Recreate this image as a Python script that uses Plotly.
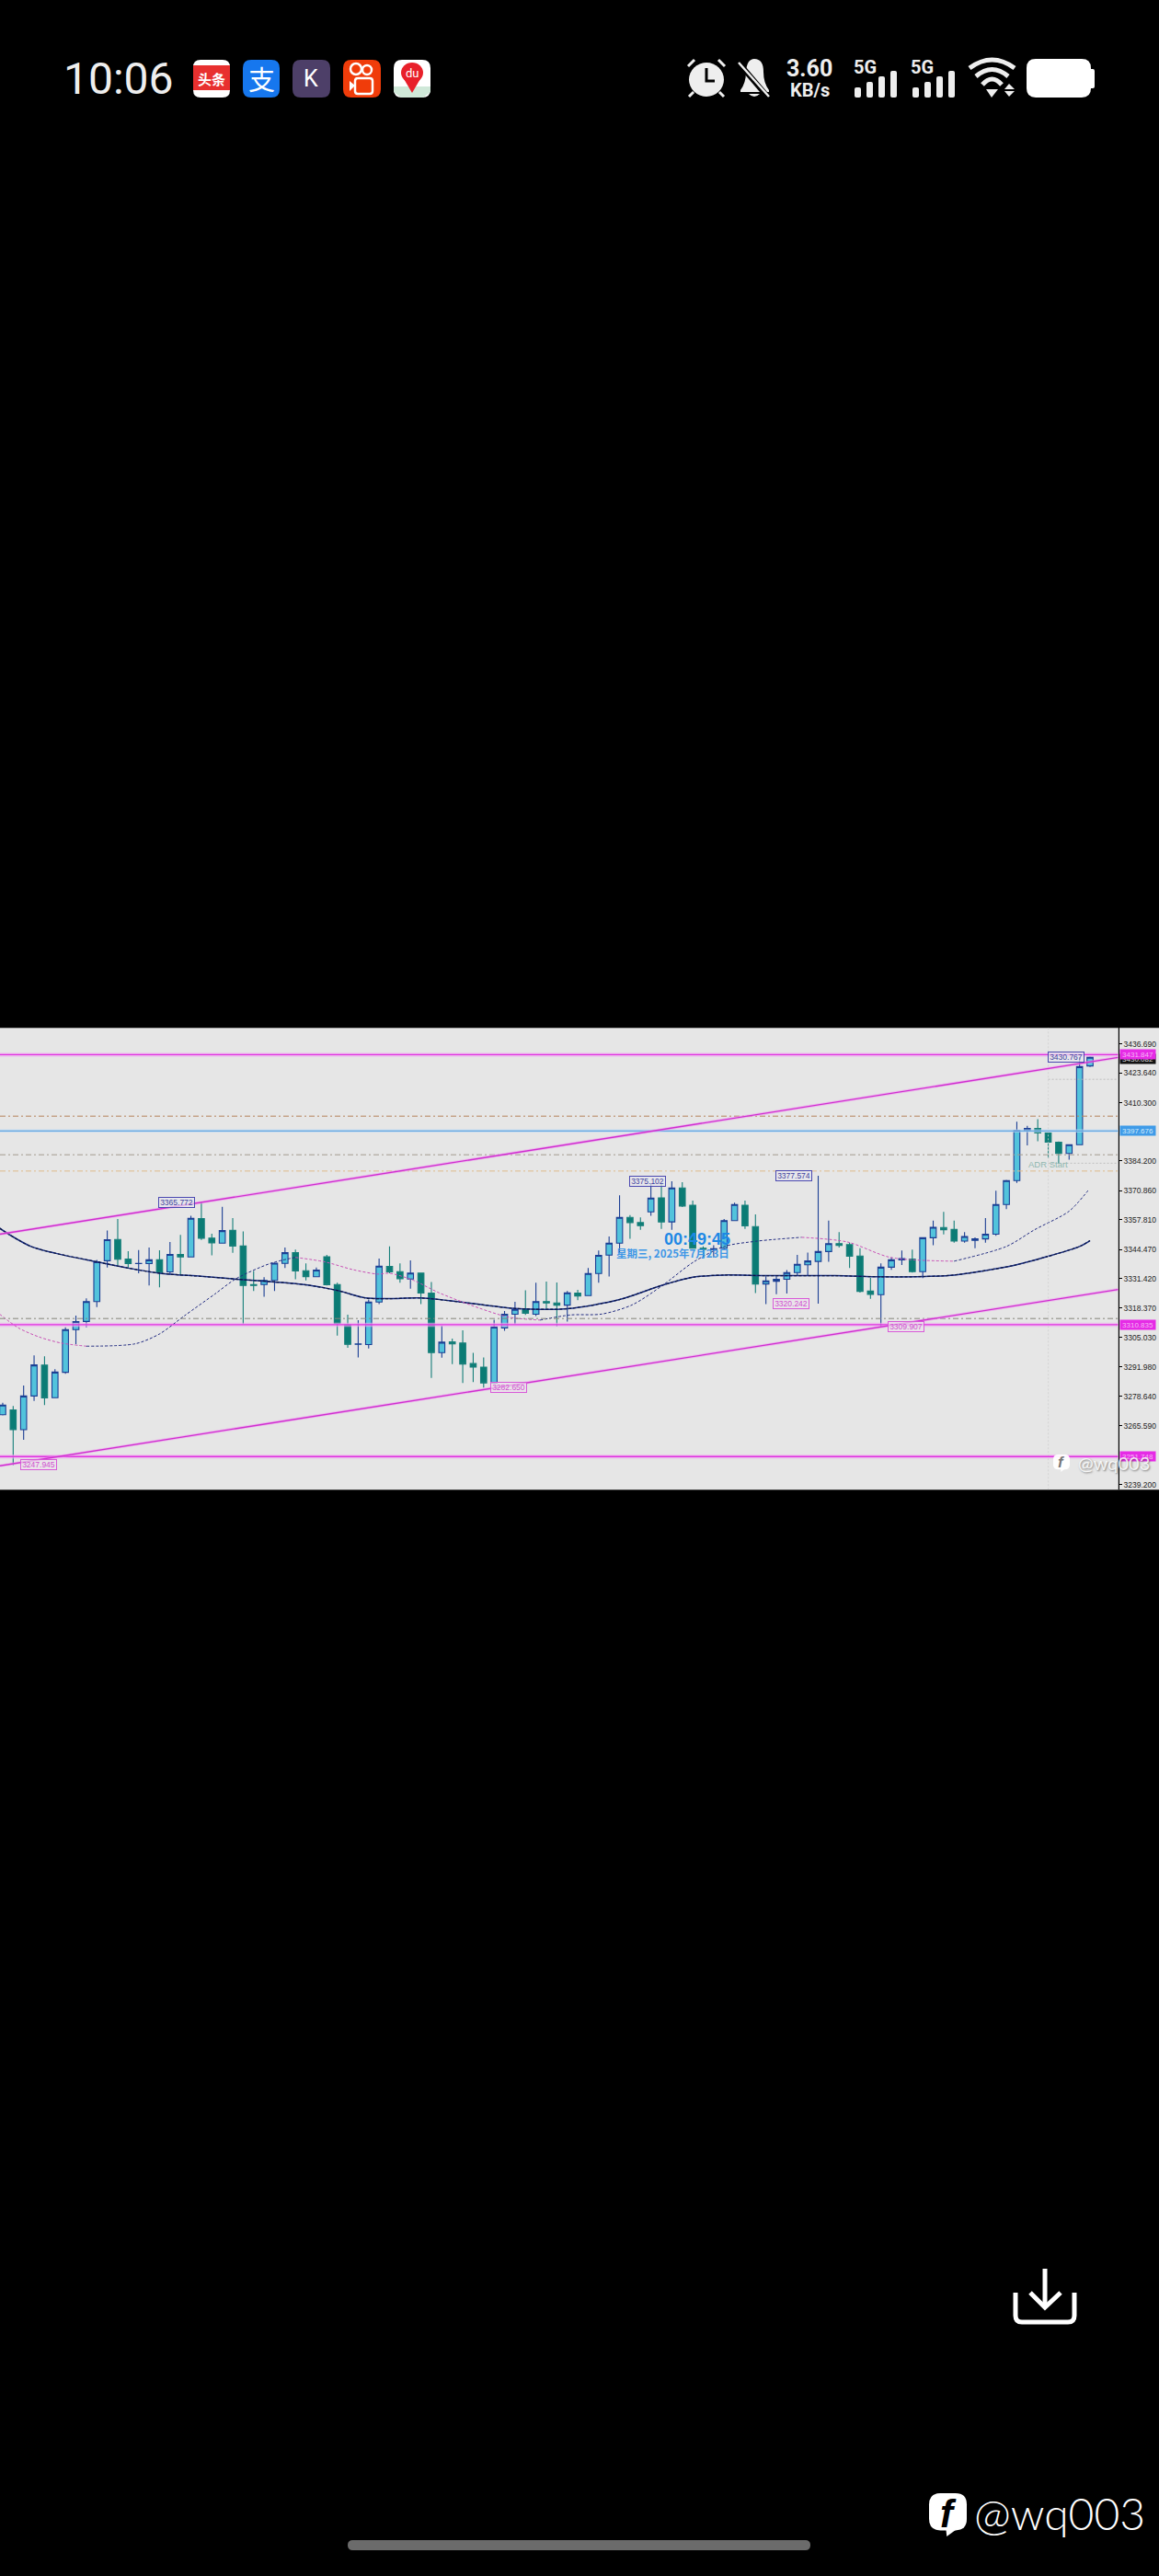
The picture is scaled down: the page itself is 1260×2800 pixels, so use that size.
import plotly.graph_objects as go

# ---------- data ----------
opens = [3270.5,3272.6,3263.8,3278.9,3292.7,3278.1,3289.5,3308.6,3312.3,3321.2,3339.5,3349.0,3340.2,3338.2,3338.2,3339.9,3334.5,3342.3,3341.2,3358.4,
3349.6,3347.4,3353.1,3346.1,3328.8,3328.8,3330.7,3338.3,3343.1,3335.0,3332.3,3341.3,3328.8,3310.8,3302.0,3301.9,3321.0,3336.9,3334.6,3331.3,
3334.0,3325.0,3298.3,3303.1,3302.6,3293.4,3291.8,3284.7,3309.4,3315.5,3318.0,3315.5,3321.2,3320.6,3319.6,3325.0,3323.9,3333.8,3342.0,3347.4,
3358.9,3356.6,3361.4,3367.7,3356.9,3372.1,3364.4,3345.1,3344.5,3345.1,3357.5,3364.4,3354.8,3329.1,3330.3,3331.2,3334.2,3337.7,3339.2,3343.6,
3347.2,3346.7,3341.6,3325.9,3324.3,3336.6,3339.9,3340.2,3334.6,3349.8,3354.4,3353.5,3348.3,3348.6,3349.3,3351.4,3364.7,3375.4,3397.9,3398.8,
3396.7,3392.6,3387.6,3391.5,3426.8]
highs = [3275.8,3274.4,3283.6,3297.1,3296.7,3290.9,3309.7,3314.9,3322.6,3339.9,3353.1,3358.2,3343.8,3344.3,3345.4,3344.2,3347.9,3351.1,3359.6,3365.772,
3351.6,3363.7,3358.6,3352.6,3334.9,3332.1,3338.7,3345.4,3344.5,3338.3,3336.5,3342.1,3329.6,3315.3,3312.9,3322.1,3340.5,3345.9,3338.3,3339.7,
3334.2,3330.0,3310.4,3304.6,3308.3,3298.2,3296.1,3313.1,3317.0,3321.1,3326.3,3329.6,3330.2,3329.8,3325.9,3326.5,3336.2,3344.1,3350.4,3368.8,
3360.0,3358.9,3374.3,3374.0,3375.102,3374.7,3366.5,3345.9,3346.5,3358.2,3365.5,3366.5,3360.3,3332.5,3332.5,3335.3,3342.1,3343.2,3377.574,3357.5,
3352.3,3347.6,3345.1,3331.8,3338.3,3341.0,3344.1,3344.5,3350.0,3357.5,3361.4,3357.5,3352.3,3350.0,3358.6,3370.9,3375.7,3401.8,3399.9,3402.9,
3397.1,3392.9,3391.6,3430.767,3431.1]
lows = [3270.2,3247.945,3259.3,3276.7,3274.8,3277.9,3288.8,3302.1,3309.7,3318.7,3336.5,3337.6,3336.5,3333.9,3328.4,3327.6,3333.1,3333.1,3341.0,3348.8,
3341.9,3347.2,3343.1,3311.1,3325.9,3323.4,3325.9,3336.2,3331.2,3330.7,3332.1,3328.4,3305.9,3300.5,3296.1,3300.2,3320.1,3333.9,3329.6,3327.0,
3320.1,3287.0,3296.0,3293.2,3284.7,3285.1,3282.65,3284.4,3308.1,3311.1,3315.2,3314.7,3318.0,3310.1,3312.2,3321.8,3323.7,3329.6,3332.4,3343.1,
3349.3,3353.4,3359.6,3353.8,3353.4,3363.6,3344.9,3341.0,3341.0,3344.5,3357.3,3353.8,3325.0,3320.1,3324.5,3324.8,3332.8,3332.8,3320.242,3339.0,
3345.4,3336.2,3325.2,3322.4,3309.907,3335.4,3337.6,3334.2,3331.7,3346.5,3351.3,3347.6,3347.6,3345.1,3347.6,3350.7,3362.6,3374.4,3391.2,3393.0,
3385.4,3383.0,3384.8,3391.3,3426.3]
closes = [3274.8,3263.8,3278.9,3292.8,3278.0,3289.6,3308.6,3312.2,3321.2,3339.0,3348.9,3340.2,3338.2,3338.3,3339.9,3334.2,3342.3,3341.2,3358.5,3349.6,
3347.5,3353.0,3346.1,3328.4,3328.4,3330.7,3338.4,3343.1,3334.9,3332.3,3335.3,3328.7,3311.4,3302.0,3302.2,3321.0,3337.1,3334.5,3331.4,3334.0,
3325.0,3298.3,3303.0,3302.3,3293.2,3291.8,3284.7,3309.8,3315.5,3317.7,3316.0,3321.2,3320.6,3319.6,3325.1,3323.7,3333.8,3341.9,3347.4,3358.9,
3356.6,3355.2,3367.6,3356.9,3372.1,3364.0,3345.1,3344.6,3344.9,3357.5,3364.7,3355.1,3329.1,3330.5,3331.2,3334.2,3337.9,3339.4,3343.6,3347.2,
3346.4,3341.5,3325.8,3324.4,3336.6,3339.9,3340.5,3334.6,3349.8,3354.5,3353.4,3348.3,3350.4,3349.3,3351.4,3364.7,3375.4,3397.9,3398.8,3396.8,
3392.7,3387.6,3391.5,3426.5,3430.7]
bars = list(range(len(opens)))

slow_ma_x = [-0.3,0.6,2.7,5,9,12,15,19,23,26,29,32,34.7,37,40,46,49,54,59,63,66,69,73,79.6,84,88,91,96.6,100,103,104]
slow_ma_y = [3354.1,3351.3,3345.9,3342.9,3339.0,3336.2,3333.9,3332.5,3331.0,3330.0,3328.7,3326.2,3322.8,3322.5,3322.8,3319.7,3318.1,3318.0,3322.1,3328.4,3332.1,3333.1,3332.8,3332.8,3332.3,3332.4,3333.1,3337.3,3341.5,3345.9,3348.5]

fast_pink = [
    ([-0.3,1.5,3.5,5.6,8], [3315.6,3309.4,3305.3,3302.6,3301.2]),
    ([28,30.8,33.5,35.9,37,39.3,41.7,45.5,48.4,51.4], [3341.0,3339.0,3335.5,3333.5,3333.9,3330.7,3325.2,3318.4,3314.2,3312.9]),
    ([76.4,80.8,84.9,91], [3350.0,3347.9,3341.0,3339.3]),
]
fast_navy = [
    ([8,12.7,15,17.4,20.3,22.3,25.6,28], [3301.2,3302.3,3306.7,3314.9,3324.6,3331.4,3338.3,3341.0]),
    ([51.4,54.3,57.3,60.2,63.1,66.1,69,72,73.7,76.4], [3312.9,3315.2,3315.6,3319.7,3328.4,3339.0,3345.9,3348.2,3349.0,3350.0]),
    ([91,96,98.7,102,103.8], [3339.3,3345.9,3353.4,3361.7,3370.9]),
]

magenta_levels = [3431.847, 3310.835, 3251.748]
blue_level = 3397.676
dashdot_levels = [3404.3, 3387.0, 3379.7, 3313.6]
dashdot_colors = ["#b5835c", "#a39a8e", "#deb98a", "#85857a"]
dotted_levels = [3420.8, 3383.2]
channel_upper = [3351.4, 3430.6]
channel_lower = [3247.6, 3326.6]

tick_vals = [3436.69,3423.64,3410.30,3384.20,3370.86,3357.81,3344.47,3331.42,3318.37,3305.03,3291.98,3278.64,3265.59,3239.20]
tick_text = ["3436.690","3423.640","3410.300","3384.200","3370.860","3357.810","3344.470","3331.420","3318.370","3305.030","3291.980","3278.640","3265.590","3239.200"]

peak_labels = [(16.65,3365.772,"3365.772"),(61.7,3375.102,"3375.102"),(75.7,3377.574,"3377.574"),(101.7,3430.767,"3430.767")]
trough_labels = [(3.4,3247.945,"3247.945"),(48.4,3282.650,"3282.650"),(75.4,3320.242,"3320.242"),(86.4,3309.907,"3309.907")]

# ---------- layout constants ----------
W, H = 1260, 2800
X_MIN, X_MAX = -0.26, 106.7
Y_MIN, Y_MAX = 3236.86, 3443.84
AX_R = 1215.7
MAG = "#e030e0"
NAVY = "#1a2f86"

fig = go.Figure()

def hline(y, color, width, dash="solid", x0=X_MIN, x1=X_MAX):
    fig.add_trace(go.Scatter(x=[x0, x1], y=[y, y], mode="lines", hoverinfo="skip",
                             line=dict(color=color, width=width, dash=dash), showlegend=False))

# halos behind lines
for lv in magenta_levels:
    hline(lv, "rgba(240,170,240,0.6)", 4.5)
hline(blue_level, "rgba(190,220,245,0.65)", 3.5)

# moving averages below candles
fig.add_trace(go.Scatter(x=slow_ma_x, y=slow_ma_y, mode="lines", hoverinfo="skip", showlegend=False,
                         line=dict(color=NAVY, width=1.5, shape="spline", smoothing=0.8)))
fig.add_trace(go.Scatter(x=slow_ma_x, y=slow_ma_y, mode="lines", hoverinfo="skip", showlegend=False,
                         line=dict(color="#0a1440", width=1.2, dash="3px,2px", shape="spline", smoothing=0.8)))
for xs, ys in fast_pink:
    fig.add_trace(go.Scatter(x=xs, y=ys, mode="lines", hoverinfo="skip", showlegend=False,
                             line=dict(color="#c84fb5", width=1, dash="3px,2px", shape="spline", smoothing=0.8)))
for xs, ys in fast_navy:
    fig.add_trace(go.Scatter(x=xs, y=ys, mode="lines", hoverinfo="skip", showlegend=False,
                             line=dict(color="#202a80", width=1, dash="3px,2px", shape="spline", smoothing=0.8)))

fig.add_trace(go.Candlestick(
    x=bars, open=opens, high=highs, low=lows, close=closes, hoverinfo="skip", showlegend=False,
    whiskerwidth=0,
    increasing=dict(fillcolor="#52c3dc", line=dict(color="#1c3f94", width=1.1)),
    decreasing=dict(fillcolor="#0b7c75", line=dict(color="#167f7a", width=1.1)),
))

# levels over candles
for lv, c in zip(dashdot_levels, dashdot_colors):
    hline(lv, c, 1, "6px,3px,2px,3px")
for lv in dotted_levels:
    hline(lv, "#b5b5b5", 0.8, "2px,2px", x0=100, x1=X_MAX)
fig.add_trace(go.Scatter(x=[100, 100], y=[Y_MIN, Y_MAX], mode="lines", hoverinfo="skip", showlegend=False,
                         line=dict(color="#cfcfcf", width=0.8, dash="2px,2px")))
hline(blue_level, "#4a97dc", 1.1)
for lv in magenta_levels:
    hline(lv, MAG, 1.4)
for ys in (channel_upper, channel_lower):
    fig.add_trace(go.Scatter(x=[X_MIN, X_MAX], y=ys, mode="lines", hoverinfo="skip", showlegend=False,
                             line=dict(color="rgba(240,150,240,0.55)", width=3.2)))
    fig.add_trace(go.Scatter(x=[X_MIN, X_MAX], y=ys, mode="lines", hoverinfo="skip", showlegend=False,
                             line=dict(color="#cf2fcf", width=1.4)))

# ---------- pixel helpers for the phone screen furniture ----------
def fx(x): return x / W
def fy(y): return 1 - y / H
def pt(x, y): return f"{fx(x):.5f},{fy(y):.5f}"
shapes = []

def path(d, fill=None, stroke=None, sw=0, layer="above"):
    s = dict(type="path", xref="paper", yref="paper", path=d, layer=layer,
             line=dict(color=stroke or "rgba(0,0,0,0)", width=sw))
    if fill:
        s["fillcolor"] = fill
    shapes.append(s)

def rrect(x0, y0, x1, y1, r, fill=None, stroke=None, sw=0, layer="above"):
    d = (f"M{pt(x0+r,y0)} L{pt(x1-r,y0)} Q{pt(x1,y0)} {pt(x1,y0+r)} L{pt(x1,y1-r)} Q{pt(x1,y1)} {pt(x1-r,y1)} "
         f"L{pt(x0+r,y1)} Q{pt(x0,y1)} {pt(x0,y1-r)} L{pt(x0,y0+r)} Q{pt(x0,y0)} {pt(x0+r,y0)} Z")
    path(d, fill, stroke, sw, layer)

def poly(points, fill=None, stroke=None, sw=0, closed=True):
    d = "M" + " L".join(pt(*p) for p in points) + (" Z" if closed else "")
    path(d, fill, stroke, sw)

def ellipse(x0, y0, x1, y1, fill=None, stroke=None, sw=0):
    shapes.append(dict(type="circle", xref="paper", yref="paper", x0=fx(x0), x1=fx(x1), y0=fy(y0), y1=fy(y1),
                       fillcolor=fill or "rgba(0,0,0,0)", line=dict(color=stroke or "rgba(0,0,0,0)", width=sw)))

anns = []
def txt(x, y, s, size, color, family="Roboto", bold=False, xa="center", **kw):
    f = dict(size=size, color=color, family=family)
    if bold:
        f["weight"] = 700
    if "weight" in kw:
        f["weight"] = kw.pop("weight")
    if "shadow" in kw:
        f["shadow"] = kw.pop("shadow")
    anns.append(dict(x=fx(x), y=fy(y), xref="paper", yref="paper", text=s, showarrow=False,
                     xanchor=xa, yanchor="middle", font=f, **kw))

# axis strip background
shapes.append(dict(type="rect", xref="paper", yref="paper", x0=fx(AX_R), x1=1, y0=fy(1619.3), y1=fy(1117.3),
                   fillcolor="#e6e6e6", line=dict(width=0), layer="below"))

# status bar
GREY = "#eeeeee"
txt(129, 85, "10:06", 48, GREY)
rrect(210, 65, 250, 106, 8, "#ffffff")
path(f"M{pt(210,71)} L{pt(250,71)} L{pt(250,98)} L{pt(210,98)} Z", "#e8302f")
txt(230, 85, "头条", 15, "#ffffff", "Noto Sans CJK SC", True)
rrect(264, 65, 304, 106, 9, "#1677ee")
txt(284, 85, "支", 29, "#ffffff", "Noto Sans CJK SC")
rrect(318, 65, 359, 106, 9, "#4d3f68")
txt(338, 86, "K", 25, "#ffffff", "Roboto")
rrect(373, 65, 414, 106, 9, "#f03c0a")
ellipse(381, 69, 393, 81, None, "#ffffff", 2.5)
ellipse(394, 71, 404, 81, None, "#ffffff", 2.5)
rrect(386, 85, 405, 102, 3, None, "#ffffff", 2.5)
poly([(386, 93), (380, 88), (380, 99)], "#ffffff")
rrect(428, 65, 468, 106, 9, "#ffffff")
poly([(428, 94), (468, 94), (468, 100), (460, 106), (436, 106), (428, 100)], "#cfe8d8")
ellipse(436, 68, 460, 90, "#e8202a")
poly([(438, 84), (458, 84), (448, 101)], "#e8202a")
txt(448, 79, "du", 13, "#ffffff", "Roboto")

# alarm
ellipse(749, 68, 787, 105, GREY)
poly([(768, 74), (768, 88), (777, 88)], None, "#000000", 3, closed=False)
for a, b in (((748, 72), (755, 65)), ((781, 65), (788, 72)), ((749, 105), (754, 100)), ((782, 100), (787, 105))):
    poly([a, b], None, GREY, 3, closed=False)
# muted bell
path(f"M{pt(805,98)} Q{pt(811,90)} {pt(811,78)} Q{pt(812,64)} {pt(820,64)} Q{pt(830,64)} {pt(830,78)} Q{pt(830,90)} {pt(836,98)} L{pt(836,100)} L{pt(805,100)} Z", GREY)
path(f"M{pt(814,102)} L{pt(826,102)} Q{pt(820,108)} {pt(814,102)} Z", GREY)
poly([(801, 66), (836, 107)], None, "#000000", 6, closed=False)
poly([(803, 68), (836, 105)], None, GREY, 2.5, closed=False)
# speed
txt(880, 74, "3.60", 25, GREY, "Roboto", True)
txt(880, 98, "KB/s", 20, GREY, "Roboto", True)
# signal
for off in (0, 63):
    txt(940 + off, 73, "5G", 20, GREY, "Roboto", True)
    for x0, top in ((929, 95), (942, 89), (955, 83), (968, 77)):
        rrect(x0 + off, top, x0 + 7 + off, 106, 2, GREY)
# wifi
for x0, x1, ye, yc, w in ((1054, 1103, 74, 56, 5), (1061, 1096, 83, 68, 5), (1068, 1089, 92, 80, 5)):
    path(f"M{pt(x0,ye)} Q{pt((x0+x1)/2,yc)} {pt(x1,ye)}", None, GREY, w)
poly([(1072, 97), (1085, 97), (1078, 106)], GREY)
poly([(1092, 97), (1103, 97), (1097, 91)], GREY)
poly([(1092, 99), (1103, 99), (1097, 105)], GREY)
# battery
rrect(1116, 64, 1186, 106, 10, "#ffffff")
rrect(1184, 75, 1190, 96, 2, "#ffffff")

# download icon
path(f"M{pt(1104,2492)} L{pt(1104,2517)} Q{pt(1104,2524)} {pt(1111,2524)} L{pt(1161,2524)} Q{pt(1168,2524)} {pt(1168,2517)} L{pt(1168,2492)}", None, "#ffffff", 5)
poly([(1136, 2466), (1136, 2507)], None, "#ffffff", 5, closed=False)
poly([(1120, 2492), (1136, 2508), (1153, 2492)], None, "#ffffff", 5, closed=False)

# home bar
rrect(378, 2761, 881, 2772, 5.5, "#6b6b6b")

def logo(x0, y0, x1, y1, fill, fcolor, fsize):
    r = (x1 - x0) * 0.3
    h = (y1 - y0)
    yb = y0 + h * 0.86
    rrect(x0, y0, x1, yb, r, fill)
    poly([(x0 + (x1 - x0) * .45, yb - 1), (x0 + (x1 - x0) * .47, y1), (x0 + (x1 - x0) * .72, yb - 1)], fill)
    txt((x0 + x1) / 2, y0 + h * 0.47, "<i>f</i>", fsize, fcolor, "Liberation Sans", True)

logo(1010, 2710, 1051, 2757, "#ffffff", "#000000", 42)
txt(1057, 2731, "@wq003", 48, "#ffffff", "Lato", xa="left", weight=300)

# ---------- chart text ----------
for x, y, s in peak_labels:
    anns.append(dict(x=x, y=y, xref="x", yref="y", text=s, showarrow=False, width=38, height=10, borderpad=0,
                     bordercolor="#4a48b0", borderwidth=1, bgcolor="rgba(230,230,236,0.7)",
                     font=dict(size=8.5, color="#3f3f9e", family="Liberation Sans")))
for x, y, s in trough_labels:
    anns.append(dict(x=x, y=y, xref="x", yref="y", text=s, showarrow=False, width=38, height=10, borderpad=0,
                     bordercolor="#d85ad8", borderwidth=1, bgcolor="rgba(235,225,235,0.7)",
                     font=dict(size=8.5, color="#d050d0", family="Liberation Sans")))

anns.append(dict(x=100, y=3382.7, xref="x", yref="y", text="ADR Start", showarrow=False,
                 font=dict(size=9.5, color="#8fb7b0", family="Liberation Sans")))
anns.append(dict(x=66.4, y=3349.0, xref="x", yref="y", text="<b>00:49:45</b>", showarrow=False,
                 font=dict(size=18, color="#1e88e5", family="Liberation Sans")))
anns.append(dict(x=64.1, y=3343.0, xref="x", yref="y", text="<b>星期三, 2025年7月23日</b>", showarrow=False,
                 font=dict(size=11.5, color="#3d97e6", family="Noto Sans CJK SC")))

def tag(price, s, bg, fg):
    anns.append(dict(x=(AX_R + 1) / W, y=price, xref="paper", yref="y", xanchor="left", text=s, showarrow=False,
                     width=38, height=10, borderpad=0, bgcolor=bg,
                     font=dict(size=8, color=fg, family="Liberation Sans")))

tag(3430.1, "3430.082", "#111111", "#dddddd")
tag(magenta_levels[0], "3431.847", "#e62be6", "#f5b8f5")
tag(blue_level, "3397.676", "#3f9be8", "#d5ecfb")
tag(magenta_levels[1], "3310.835", "#e62be6", "#f5b8f5")
tag(magenta_levels[2], "3251.748", "#e62be6", "#f5b8f5")

logo(1145, 1581, 1163, 1600, "rgba(255,255,255,0.95)", "rgba(110,110,110,0.95)", 17)
txt(1170, 1590, "@wq003", 20, "rgba(255,255,255,0.85)", "Lato", xa="left", shadow="1px 1px 2px rgba(60,60,60,0.7)")

fig.update_layout(
    width=W, height=H, margin=dict(l=0, r=0, t=0, b=0), autosize=False,
    paper_bgcolor="#000000", plot_bgcolor="#e6e6e6", showlegend=False,
    boxgap=0.2, boxgroupgap=0.28,
    xaxis=dict(domain=[0, AX_R / W], range=[X_MIN, X_MAX], visible=False, rangeslider=dict(visible=False), fixedrange=True),
    yaxis=dict(domain=[fy(1619.3), fy(1117.3)], range=[Y_MIN, Y_MAX], side="right", anchor="x", showgrid=False, zeroline=False,
               tickmode="array", tickvals=tick_vals, ticktext=tick_text, ticks="outside", ticklen=3, tickcolor="#000000",
               tickwidth=1, showline=True, linecolor="#000000", linewidth=1.2, fixedrange=True,
               tickfont=dict(size=8.5, color="#222222", family="Liberation Sans")),
    shapes=shapes, annotations=anns,
)

fig.write_html("out.html", config=dict(displayModeBar=False, staticPlot=True),
               post_script="document.body.style.margin='0';document.body.style.background='#000';document.documentElement.style.overflow='hidden';")
